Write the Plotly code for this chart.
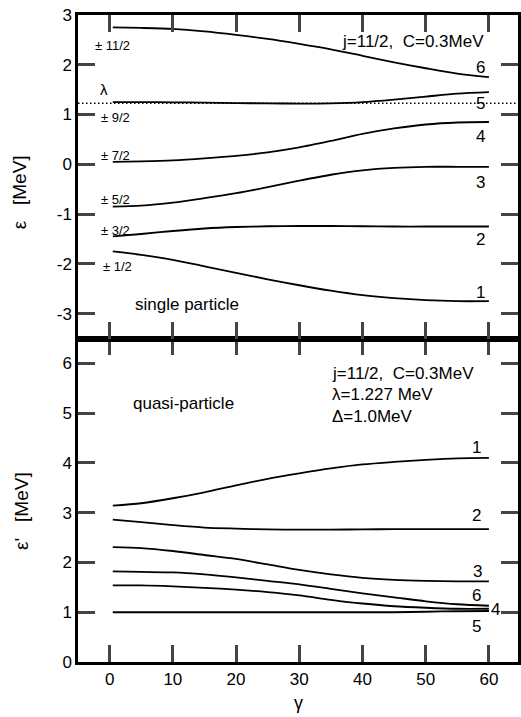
import plotly.graph_objects as go

# Deformation angle gamma (degrees) at which the levels are sampled
gamma = [0.5, 5, 10, 15, 20, 25, 30, 35, 40, 45, 50, 55, 60]

# Single-particle levels (MeV), j = 11/2, C = 0.3 MeV
sp_1 = [-1.75, -1.82, -1.92, -2.05, -2.18, -2.31, -2.43, -2.54, -2.63, -2.69, -2.73, -2.75, -2.75]
sp_2 = [-1.45, -1.40, -1.34, -1.29, -1.26, -1.245, -1.24, -1.24, -1.245, -1.25, -1.25, -1.25, -1.25]
sp_3 = [-0.85, -0.83, -0.77, -0.68, -0.58, -0.46, -0.33, -0.21, -0.12, -0.07, -0.05, -0.05, -0.05]
sp_4 = [0.05, 0.06, 0.08, 0.12, 0.17, 0.24, 0.34, 0.47, 0.61, 0.72, 0.80, 0.84, 0.85]
sp_5 = [1.25, 1.25, 1.245, 1.24, 1.23, 1.225, 1.22, 1.225, 1.25, 1.30, 1.36, 1.42, 1.45]
sp_6 = [2.75, 2.74, 2.72, 2.67, 2.60, 2.52, 2.42, 2.31, 2.18, 2.05, 1.93, 1.82, 1.75]

# Quasi-particle energies (MeV), lambda = 1.227 MeV, Delta = 1.0 MeV
qp_1 = [3.14, 3.19, 3.29, 3.41, 3.55, 3.68, 3.79, 3.89, 3.97, 4.02, 4.06, 4.09, 4.10]
qp_2 = [2.86, 2.81, 2.75, 2.70, 2.68, 2.665, 2.66, 2.66, 2.665, 2.67, 2.67, 2.67, 2.67]
qp_3 = [2.31, 2.29, 2.23, 2.15, 2.07, 1.96, 1.85, 1.76, 1.69, 1.65, 1.63, 1.62, 1.62]
qp_4 = [1.54, 1.54, 1.52, 1.49, 1.455, 1.405, 1.34, 1.25, 1.175, 1.12, 1.09, 1.07, 1.07]
qp_5 = [1.0, 1.0, 1.0, 1.0, 1.0, 1.0, 1.0, 1.0, 1.0, 1.0, 1.01, 1.02, 1.025]
qp_6 = [1.82, 1.81, 1.80, 1.76, 1.70, 1.63, 1.56, 1.47, 1.38, 1.30, 1.22, 1.16, 1.13]

fermi_level = 1.227

# Axis ranges and tick spacing
x_range = [-5, 64.6]
sp_range = [-3.5, 3]
qp_range = [0, 6.5]
x_major = 10
y_major = 1

# Level labels
m_labels = ["\u00b1 1/2", "\u00b1 3/2", "\u00b1 5/2", "\u00b1 7/2", "\u00b1 9/2", "\u00b1 11/2"]
level_numbers = ["1", "2", "3", "4", "5", "6"]

FONT = "Liberation Sans, Arial, Helvetica, sans-serif"
BLACK = "black"
LINE = dict(color=BLACK, width=1.8, shape="spline", smoothing=0.8)

fig = go.Figure()
for ys in [sp_1, sp_2, sp_3, sp_4, sp_5, sp_6]:
    fig.add_trace(go.Scatter(x=gamma, y=ys, mode="lines", line=LINE,
                             xaxis="x2", yaxis="y2", hoverinfo="skip"))
for ys in [qp_1, qp_2, qp_3, qp_4, qp_5, qp_6]:
    fig.add_trace(go.Scatter(x=gamma, y=ys, mode="lines", line=LINE,
                             xaxis="x", yaxis="y", hoverinfo="skip"))

# Fermi level (dotted)
fig.add_shape(type="line", xref="x2 domain", x0=0, x1=1, yref="y2",
              y0=fermi_level, y1=fermi_level,
              line=dict(color=BLACK, width=1.5, dash="1.5px,2.5px"))


def axis_style(dtick, **kw):
    d = dict(showline=True, linewidth=2.5, linecolor=BLACK, mirror="ticks",
             ticks="inside", ticklen=17, tickwidth=2.5,
             tick0=0, dtick=dtick, showgrid=False, zeroline=False)
    d.update(kw)
    return d


# plain hyphen for negative tick labels
hyphen_alias = {"\u2212%d" % k: "-%d" % k for k in range(1, 4)}

fig.update_layout(
    width=521, height=717,
    margin=dict(l=78, r=0, t=15, b=55),
    paper_bgcolor="white", plot_bgcolor="white",
    showlegend=False,
    font=dict(family=FONT, size=17, color=BLACK),
    xaxis=axis_style(x_major, domain=[0, 1], anchor="y", range=x_range),
    xaxis2=axis_style(x_major, domain=[0, 1], anchor="y2",
                      range=x_range, matches="x", showticklabels=False),
    yaxis=axis_style(y_major, domain=[0, 0.5], anchor="x", range=qp_range),
    yaxis2=axis_style(y_major, domain=[0.5, 1], anchor="x2",
                      range=sp_range, labelalias=hyphen_alias),
)

ann = []


def text(x, y, s, xref, yref, size=17, xanchor="center", yanchor="middle", **kw):
    ann.append(dict(x=x, y=y, text=s, xref=xref, yref=yref, showarrow=False,
                    xanchor=xanchor, yanchor=yanchor,
                    font=dict(family=FONT, size=size, color=BLACK), **kw))


# Single-particle panel: m labels at gamma = 0
m_pos = [(1.3, -2.05), (0.9, -1.33), (0.9, -0.70), (0.9, 0.18), (0.9, 0.95), (0.4, 2.39)]
for lbl, (xx, yy) in zip(m_labels, m_pos):
    text(xx, yy, lbl, "x2", "y2", size=13)
text(-0.95, 1.51, "\u03bb", "x2", "y2", size=15)

# Single-particle panel: level numbers at gamma = 60
sp_num_y = [-2.57, -1.52, -0.36, 0.55, 1.23, 1.95]
for lbl, yy in zip(level_numbers, sp_num_y):
    text(58.65, yy, lbl, "x2", "y2")

text(36.4, 2.46, "j=11/2,  C=0.3MeV", "x2", "y2", xanchor="left")
text(12.2, -2.82, "single particle", "x2", "y2")

# Quasi-particle panel: level numbers
qp_num_pos = [(58.1, 4.32), (58.1, 2.94), (58.2, 1.82), (61.0, 1.05), (58.0, 0.715), (58.0, 1.33)]
for lbl, (xx, yy) in zip(level_numbers, qp_num_pos):
    text(xx, yy, lbl, "x", "y")

text(34.8, 5.80, "j=11/2,  C=0.3MeV", "x", "y", xanchor="left")
text(34.8, 5.37, "\u03bb=1.227 MeV", "x", "y", xanchor="left")
text(34.8, 4.93, "\u0394=1.0MeV", "x", "y", xanchor="left")
text(11.7, 5.19, "quasi-particle", "x", "y")

# Axis titles
text(-0.133, -0.553, "\u03b5   [MeV]", "paper", "y2", size=19, textangle=-90)
text(-0.128, 3.03, "\u03b5'   [MeV]", "paper", "y", size=19, textangle=-90)
text(29.8, -0.064, "\u03b3", "x", "paper", size=18)

fig.update_layout(annotations=ann)
fig.write_html("out.html")
